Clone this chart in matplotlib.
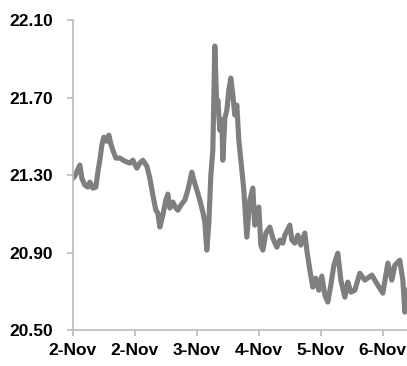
import matplotlib
matplotlib.use("Agg")
import matplotlib.pyplot as plt

# time in days from the first tick, price values
t = [0.0, 0.032, 0.113, 0.145, 0.194, 0.242, 0.274, 0.323, 0.371, 0.403,
     0.435, 0.468, 0.5, 0.548, 0.581, 0.613, 0.645, 0.694, 0.758, 0.839,
     0.919, 0.968, 1.032, 1.081, 1.129, 1.194, 1.242, 1.290, 1.339, 1.371,
     1.403, 1.452, 1.5, 1.532, 1.565, 1.613, 1.661, 1.694, 1.742, 1.806,
     1.855, 1.919, 1.952, 2.0, 2.048, 2.097, 2.129, 2.161, 2.194, 2.226,
     2.258, 2.290, 2.323, 2.339, 2.371, 2.403, 2.419, 2.452, 2.484, 2.516,
     2.548, 2.581, 2.613, 2.645, 2.677, 2.726, 2.758, 2.806, 2.855, 2.903,
     2.935, 2.968, 3.0, 3.032, 3.065, 3.113, 3.177, 3.226, 3.290, 3.339,
     3.387, 3.419, 3.5, 3.532, 3.581, 3.629, 3.677, 3.742, 3.774, 3.823,
     3.871, 3.919, 3.968, 4.016, 4.065, 4.113, 4.161, 4.210, 4.274, 4.323,
     4.387, 4.435, 4.484, 4.548, 4.629, 4.710, 4.823, 4.919, 5.0, 5.081,
     5.145, 5.194, 5.274, 5.323, 5.355, 5.387]
price = [21.284, 21.295, 21.352, 21.284, 21.248, 21.238, 21.264, 21.233, 21.238, 21.315,
         21.377, 21.455, 21.496, 21.475, 21.506, 21.460, 21.429, 21.388, 21.388, 21.372,
         21.362, 21.377, 21.336, 21.362, 21.377, 21.346, 21.284, 21.197, 21.119, 21.104,
         21.032, 21.094, 21.171, 21.202, 21.130, 21.161, 21.130, 21.119, 21.145, 21.171,
         21.223, 21.315, 21.274, 21.223, 21.171, 21.109, 21.057, 20.913, 21.057, 21.300,
         21.429, 21.966, 21.635, 21.687, 21.532, 21.584, 21.377, 21.594, 21.635, 21.739,
         21.801, 21.713, 21.610, 21.661, 21.481, 21.326, 21.223, 20.980, 21.171, 21.233,
         21.042, 21.119, 21.135, 20.939, 20.913, 21.001, 21.032, 20.975, 20.928, 20.965,
         20.949, 20.990, 21.042, 20.965, 20.949, 20.990, 20.939, 21.001, 20.913, 20.810,
         20.722, 20.768, 20.706, 20.779, 20.681, 20.645, 20.732, 20.835, 20.897, 20.758,
         20.670, 20.748, 20.696, 20.706, 20.794, 20.758, 20.784, 20.732, 20.691, 20.846,
         20.758, 20.835, 20.861, 20.758, 20.593, 20.706]

x_ticks = [0, 1, 2, 3, 4, 5]
x_labels = ["2-Nov", "2-Nov", "3-Nov", "4-Nov", "5-Nov", "6-Nov"]
y_ticks = [20.50, 20.90, 21.30, 21.70, 22.10]

plt.rcParams['font.family'] = ['Liberation Sans', 'DejaVu Sans']

fig = plt.figure(figsize=(4.07, 3.66), dpi=100)
ax = fig.add_axes([0.179, 0.098, 0.821, 0.847])

ax.plot(t, price, color='#7f7f7f', linewidth=3.7, solid_joinstyle='round')

ax.set_xlim(0, 5.39)
ax.set_ylim(20.50, 22.10)
ax.set_xticks(x_ticks)
ax.set_xticklabels(x_labels)
ax.set_yticks(y_ticks)
ax.set_yticklabels([f"{v:.2f}" for v in y_ticks])

for s in ['top', 'right']:
    ax.spines[s].set_visible(False)
for s in ['left', 'bottom']:
    ax.spines[s].set_color('#bfbfbf')
    ax.spines[s].set_linewidth(1.3)

ax.tick_params(axis='both', colors='#bfbfbf', width=1.3, length=4.5,
               labelcolor='black', labelsize=12.5)
ax.tick_params(axis='y', pad=10)
ax.tick_params(axis='x', pad=5)
for lbl in ax.get_xticklabels() + ax.get_yticklabels():
    lbl.set_fontweight('bold')

fig.savefig('out.png', dpi=100)
